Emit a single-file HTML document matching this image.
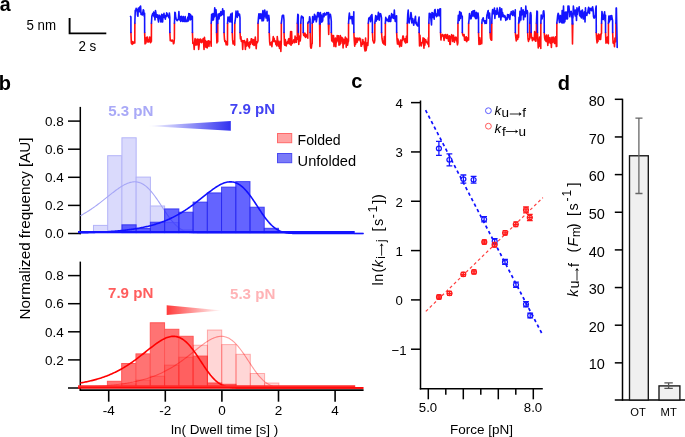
<!DOCTYPE html>
<html><head><meta charset="utf-8"><title>figure</title>
<style>
html,body{margin:0;padding:0;background:#fff;width:685px;height:437px;overflow:hidden}
svg{display:block;will-change:transform}
text{font-family:"Liberation Sans", sans-serif}
</style></head><body>
<svg width="685" height="437" viewBox="0 0 685 437">
<text x="-0.3" y="10.5" font-size="19.6" fill="#000" text-anchor="start" font-weight="bold" font-style="normal" >a</text>
<text x="26.4" y="29.7" font-size="13.9" fill="#000" text-anchor="start" font-weight="normal" font-style="normal" textLength="29.6" lengthAdjust="spacingAndGlyphs">5 nm</text>
<text x="78.4" y="50.9" font-size="13.9" fill="#000" text-anchor="start" font-weight="normal" font-style="normal" textLength="17.9" lengthAdjust="spacingAndGlyphs">2 s</text>
<path d="M69.6 18 V33.4 H106.3" fill="none" stroke="#000" stroke-width="1.9"/>
<path d="M130.95 32.5 L131.33 43.13 L131.77 43.56 L132.2 44.35 L132.63 41.59 L133.07 43.56 L133.5 43.4 L133.93 42.13 L134.37 41.7 L134.8 42.96 L134.85 23.2 M144.65 32.5 L145.05 43.94 L145.51 41.28 L145.96 43.04 L146.41 37.57 L146.87 39.69 L147.32 37 L147.77 42.01 L148.23 39.67 L148.68 42.01 L149.13 40.65 L149.59 37 L150.04 39.98 L150.49 42.69 L150.95 37 L151.4 41.66 L151.45 23.2 M169.85 32.5 L170.26 40.72 L170.72 40.19 L171.18 40.71 L171.64 41.04 L172.1 39.97 L172.56 40.83 L173.02 40.83 L173.48 43.79 L173.94 43.06 L174.4 38.51 L174.45 23.2 M192.45 32.5 L192.85 43.41 L193.3 42.88 L193.74 43.28 L194.19 49.5 L194.64 40.8 L195.09 38.59 L195.53 42.81 L195.98 45.08 L196.43 44.11 L196.88 39.33 L197.32 44.8 L197.77 39.16 L198.22 39.3 L198.67 49.5 L199.11 45.33 L199.56 39.46 L200.01 41.86 L200.46 38.94 L200.9 40.93 L201.35 42.63 L201.8 39.98 L202.25 41.78 L202.7 41.86 L203.14 38.48 L203.59 42.6 L204.04 49.5 L204.49 37.28 L204.93 43.31 L205.38 40.55 L205.83 47.21 L206.28 41.75 L206.72 41.49 L207.17 47.98 L207.62 41.33 L208.07 41.84 L208.51 40.8 L208.96 46.39 L209.41 41.33 L209.86 41.52 L210.3 42.44 L210.75 41.66 L211.2 46.28 L211.25 23.2 M216.55 32.5 L216.9 42.91 L217.3 40 L217.7 41.63 L217.75 23.2 M224.05 32.5 L224.44 39 L224.88 41.51 L225.31 40.72 L225.75 42.35 L226.19 44.77 L226.62 42.37 L227.06 41.35 L227.5 44.87 L227.55 23.2 M232.25 32.5 L232.62 40 L233.03 43.93 L233.45 42.3 L233.87 41.18 L234.28 43.46 L234.7 45.11 L234.75 23.2 M240.05 32.5 L240.45 38.99 L240.9 36.5 L241.35 41.53 L241.8 40.19 L242.25 40.75 L242.7 49.5 L243.15 40.9 L243.6 40.83 L244.05 41.96 L244.5 40.49 L244.95 43.6 L245.4 49.5 L245.85 41.99 L246.3 46.24 L246.75 42.97 L247.2 38.68 L247.65 41.47 L248.1 45.58 L248.55 46.45 L249 42.72 L249.45 48.04 L249.9 41.91 L250.35 44.25 L250.8 42.68 L251.25 38.77 L251.7 38.75 L252.15 40.27 L252.6 44.39 L253.05 43.3 L253.5 39.67 L253.95 45.36 L254.4 45.29 L254.85 40.89 L255.3 36.97 L255.75 42.4 L256.2 48.77 L256.65 41.72 L257.1 42.88 L257.55 42.03 L258 40.84 L258.05 23.2 M269.25 32.5 L269.65 41.83 L270.1 45.03 L270.54 44.77 L270.99 42.69 L271.44 42.31 L271.89 46.61 L272.34 41.37 L272.79 40.96 L273.23 36.5 L273.68 41.57 L274.13 38.24 L274.58 41.59 L275.03 41.72 L275.47 40.97 L275.92 44.56 L276.37 41.78 L276.82 45.99 L277.27 36.5 L277.71 40.5 L278.16 41.09 L278.61 46.11 L279.06 43.18 L279.51 48.37 L279.96 41.34 L280.4 42.26 L280.85 51.5 L281.3 41.7 L281.35 23.2 M284.05 32.5 L284.44 44.38 L284.89 45.27 L285.33 39.58 L285.77 41.83 L286.22 46 L286.66 42.72 L287.1 43.07 L287.55 41.66 L287.99 43.59 L288.43 39.47 L288.88 38.63 L289.32 40.42 L289.76 44.05 L290.21 39.25 L290.6 31.5 L290.65 42.98 L291.09 45.23 L291.54 41.2 L291.6 31.5 L291.98 42.43 L292.42 43.52 L292.87 41.91 L293.31 41.99 L293.75 39.87 L294.2 40.42 L294.64 42.65 L295.08 36 L295.53 38.86 L295.97 41.99 L296.41 42.17 L296.86 37.22 L297.3 39.18 L297.35 23.2 M298.35 32.5 L298.78 44.5 L299.26 36 L299.74 40.47 L300.22 41.02 L300.7 36.09 L300.75 23.2 M303.25 32.5 L303.66 35.35 L304.12 33.26 L304.58 36.22 L305.04 33.18 L305.5 37.48 L305.96 36.15 L306.42 36.66 L306.88 34.59 L307.34 35.4 L307.8 38.14 L307.85 23.2 M310.15 32.5 L310.52 46.51 L310.94 48.16 L311.36 48 L311.78 44.09 L312.2 43.49 L312.25 23.2 M319.6 24 L319.9 46.5 L320.2 24 M328.4 24 L328.7 34.5 L329 24 M331.35 32.5 L331.75 40.84 L332.21 38.59 L332.66 35.5 L333.11 42.27 L333.56 35.5 L334.02 46.43 L334.47 41.29 L334.92 41.49 L335.37 38.04 L335.83 46.74 L336.28 40.39 L336.73 41.93 L337.18 35.5 L337.64 40.76 L338.09 40.01 L338.4 36 L338.54 35.71 L338.99 45.22 L339.45 38.78 L339.9 44.71 L340.35 35.5 L340.81 43.48 L341.26 40.74 L341.71 37.32 L342.16 39.37 L342.62 38.15 L343.07 48 L343.52 39.53 L343.97 43.91 L344.43 43.33 L344.88 39.87 L345.33 37.15 L345.78 38.25 L346.24 47.18 L346.69 38.58 L347.14 40.74 L347.59 45.21 L348.05 42.14 L348.5 40.9 L348.55 23.2 M353.85 32.5 L354.25 40.13 L354.71 46.24 L355.16 38 L355.61 44.31 L356.07 38 L356.52 39.68 L356.97 42.53 L357.43 41.15 L357.88 38 L358.33 39.99 L358.78 39.48 L359.24 38.93 L359.69 38 L360.14 40.89 L360.6 38.96 L361.05 46.12 L361.5 46.18 L361.96 43.12 L362.41 44.2 L362.86 39.5 L363.32 43.49 L363.77 41.73 L364.22 45.29 L364.68 49 L365.13 51.06 L365.58 38 L366.03 50.5 L366.49 48.16 L366.94 43.21 L367.39 42.68 L367.85 45.38 L368.3 38 L368.35 23.2 M372.45 32.5 L372.88 40.37 L373.36 41.56 L373.84 43.04 L374.32 42.74 L374.8 40.18 L374.85 23.2 M381.55 32.5 L381.98 38.22 L382.45 41.04 L382.93 43.03 L383.4 43.31 L383.88 44.05 L384.35 36.5 L384.82 40.08 L385.3 45.17 L385.35 23.2 M396.65 32.5 L397.05 39.89 L397.49 44.05 L397.94 39.17 L398.38 41.07 L398.83 44.34 L399.28 43.69 L399.72 46.79 L400.17 41.74 L400.61 40.06 L401.06 43.37 L401.5 46.2 L401.95 40 L402.4 40.16 L402.84 36 L403.29 36 L403.73 39.57 L404.18 39.29 L404.62 41.73 L405.07 38.78 L405.52 42.93 L405.96 42.74 L406.41 36.21 L406.85 41.7 L407.3 42.29 L407.35 23.2 M419.15 32.5 L419.54 45.87 L419.98 35.42 L420.42 42.05 L420.86 42.45 L421.3 45.88 L421.75 42.75 L422.19 42.7 L422.63 42.77 L423.07 37.88 L423.51 42.22 L423.95 48.09 L424.39 38.63 L424.83 45.25 L425.27 40.57 L425.71 39.75 L426.15 40.94 L426.6 42.07 L427.04 42.79 L427.48 42.54 L427.92 44.15 L428.36 37.9 L428.8 46.79 L428.85 23.2 M440.55 32.5 L440.95 40.06 L441.39 35.61 L441.84 36.18 L442.28 34.72 L442.73 34.5 L443.18 35.5 L443.62 37.32 L444.07 40.4 L444.52 34.97 L444.96 36.88 L445.41 34.5 L445.85 37.13 L446.3 38.38 L446.75 38.2 L447.19 34.5 L447.64 35.04 L448.08 38.59 L448.53 41.1 L448.98 38.83 L449.42 35.71 L449.87 44.5 L450.32 44.5 L450.76 36.22 L451.21 37.68 L451.65 34.68 L452.1 35.7 L452.55 41.47 L452.99 39.06 L453.44 35.21 L453.88 38.86 L454.33 42.18 L454.78 40.51 L455.22 37.31 L455.67 39.63 L456.12 37.18 L456.56 40.09 L457.01 41.75 L457.45 44.83 L457.9 42.72 L457.95 23.2 M462.35 32.5 L462.75 34.9 L463.2 35.81 L463.65 36.02 L464.1 34.5 L464.55 40.17 L465 37.26 L465.45 37.34 L465.9 40.65 L466.35 36.79 L466.8 41.76 L467.25 37.96 L467.7 37.94 L468.15 40.13 L468.6 39.9 L468.65 23.2 M478.55 32.5 L478.97 44.53 L479.44 42.61 L479.91 37.85 L480.39 44.13 L480.86 41.12 L481.33 40.22 L481.8 43.69 L481.85 23.2 M490.05 32.5 L490.43 38 L490.85 39.49 L491.27 40.21 L491.7 40.21 L491.75 23.2 M515.35 32.5 L515.77 37.26 L516.24 40.91 L516.71 37.04 L517.19 35 L517.66 39.47 L518.13 36.73 L518.6 37.14 L518.65 23.2 M527.65 32.5 L528.04 39.12 L528.48 41.38 L528.92 38.76 L529.36 39.65 L529.8 38 L529.85 23.2 M531.15 32.5 L531.54 37.99 L531.98 37.35 L532.42 40.66 L532.87 38.12 L533.31 38.11 L533.75 39.03 L534.19 39.82 L534.63 31.62 L535.08 33.31 L535.52 41.28 L535.96 41.07 L536.4 34.84 L536.45 23.2 M537.45 32.5 L537.82 40.04 L538.25 47.84 L538.67 40.63 L539.1 42.56 L539.52 37.11 L539.95 46.39 L540.38 41.46 L540.8 48.55 L540.85 23.2 M544.25 32.5 L544.65 37.85 L545.1 40.12 L545.55 36.36 L546 41.52 L546.45 35 L546.9 41.76 L547.35 37.62 L547.8 45.5 L548.25 35.11 L548.7 42.8 L549.15 38.82 L549.6 37.86 L550.05 37.6 L550.5 43.32 L550.95 39.9 L551.4 47.51 L551.85 37.18 L552.3 39.32 L552.75 42.47 L553.2 36.98 L553.65 41.4 L554.1 38.03 L554.55 43.48 L555 41.7 L555.45 36.82 L555.9 41.19 L556.35 46.57 L556.8 46.34 L556.85 23.2 M572.2 24 L572.5 44 L572.8 24 M596.25 32.5 L596.64 39.12 L597.08 42.83 L597.53 35.77 L597.97 41.47 L598.41 34.12 L598.85 38.08 L599.29 36.88 L599.73 39.49 L600.17 34.25 L600.62 39.41 L601.06 34.31 L601.5 33.18 L601.55 23.2 M605.55 32.5 L605.98 43.2 L606.47 42.18 L606.95 39.66 L607.43 37 L607.92 42.95 L608.4 43.53 L608.45 23.2 M612.65 32.5 L613.07 43.09 L613.54 42.36 L614.01 41.45 L614.49 46.72 L614.96 38 L615.43 41.92 L615.9 41.64 L615.95 23.2" fill="none" stroke="#ff1010" stroke-width="1.6" stroke-linejoin="round" stroke-linecap="round"/>
<path d="M130.5 16.39 L130.7 16.68 L130.9 16.82 L130.95 32.5 M134.85 23.2 L135.25 10.42 L135.69 10.84 L136.14 8.36 L136.58 10.37 L137.03 9.53 L137.47 14.9 L137.92 16.22 L138.36 8.04 L138.81 11.25 L139.25 9.96 L139.7 7.08 L140.15 12.23 L140.59 6 L141.04 14.5 L141.48 13.01 L141.93 13.49 L142.37 14.9 L142.82 12.51 L143.26 9.84 L143.71 10.43 L144.15 16.24 L144.6 13.26 L144.65 32.5 M151.45 23.2 L151.85 16.19 L152.3 14.83 L152.75 13.49 L153.2 15.56 L153.64 12.01 L154.09 16.76 L154.54 12.72 L154.99 19.92 L155.44 10.51 L155.89 12.78 L156.34 15.53 L156.79 17.21 L157.23 14.73 L157.68 17.11 L158.13 19.86 L158.58 22 L159.03 14.98 L159.48 16.65 L159.93 15.96 L160.38 18.41 L160.82 22 L161.27 18.26 L161.72 14.18 L162.17 22 L162.62 22 L163.07 14.75 L163.52 17.54 L163.97 13.22 L164.41 17.3 L164.86 17.21 L165.31 19.14 L165.76 15.33 L166.21 16.77 L166.66 12.86 L167.11 13.66 L167.56 15.08 L168 16.34 L168.45 15.61 L168.9 17.71 L169.35 12.93 L169.8 17 L169.85 32.5 M174.45 23.2 L174.85 12.29 L175.3 12.74 L175.75 17.46 L176.2 19.16 L176.65 19.8 L177.1 20.71 L177.55 19.51 L178 19.75 L178.45 18.79 L178.9 11.67 L179.35 19.58 L179.8 19.95 L180.25 16.61 L180.7 21.5 L181.15 18.47 L181.6 16.23 L182.05 18.2 L182.5 21.5 L182.95 18.44 L183.4 16.65 L183.85 21.5 L184.3 20.29 L184.75 21.48 L185.2 16.5 L185.65 21.5 L186.1 20.3 L186.55 21.5 L187 21.5 L187.45 18.94 L187.9 17.17 L188.35 20.91 L188.8 13.6 L189.25 16.62 L189.7 13.81 L190.15 19.96 L190.6 14.69 L191.05 19.45 L191.5 16.48 L191.95 16.01 L192.4 16.62 L192.45 32.5 M211.25 23.2 L211.64 14.25 L212.08 20.51 L212.52 15.27 L212.97 13.57 L213.41 20.02 L213.85 16.5 L214.29 17 L214.73 7.76 L215.18 11.58 L215.62 15.99 L216.06 9.79 L216.5 18.38 L216.55 32.5 M217.75 23.2 L218.15 14.02 L218.6 19 L219.05 19 L219.5 13.67 L219.95 15.09 L220.4 15.82 L220.85 11.58 L221.3 15.4 L221.75 14.3 L222.2 13.5 L222.65 8.73 L223.1 14.71 L223.55 13.23 L224 10.77 L224.05 32.5 M227.55 23.2 L227.97 17.16 L228.44 20.86 L228.91 17.58 L229.38 17.1 L229.85 22 L230.32 17.45 L230.79 14.15 L231.26 22 L231.73 16.74 L232.2 13.12 L232.25 32.5 M234.75 23.2 L235.14 21 L235.58 17.58 L236.02 11 L236.47 16.08 L236.91 15.87 L237.35 17.31 L237.79 11 L238.23 15.46 L238.68 13.78 L239.12 15.52 L239.56 14.36 L240 17.88 L240.05 32.5 M258.05 23.2 L258.45 17.92 L258.9 13.76 L259.34 16.52 L259.79 18.45 L260.24 13.75 L260.69 18.56 L261.14 16.01 L261.58 14.17 L262.03 21 L262.48 14.38 L262.93 10.59 L263.38 20.68 L263.82 18.45 L264.27 16.11 L264.72 10 L265.17 12.62 L265.62 14.58 L266.06 18.03 L266.51 16.15 L266.96 11.21 L267.41 21 L267.86 17.81 L268.3 19.9 L268.75 15.33 L269.2 19.07 L269.25 32.5 M281.35 23.2 L281.75 19.92 L282.2 16.01 L282.65 15.26 L283.1 16.41 L283.55 15.3 L284 20 L284.05 32.5 M297.35 23.2 L297.8 14.32 L298.3 14.96 L298.35 32.5 M300.75 23.2 L301.12 18.02 L301.53 16.02 L301.95 16.67 L302.37 16.82 L302.78 18 L303.2 17.36 L303.25 32.5 M307.85 23.2 L308.26 22 L308.72 21.59 L309.18 22 L309.64 16.68 L310.1 19.15 L310.15 32.5 M312.25 23.2 L312.65 16.56 L313.11 22.29 L313.56 20.48 L314.02 19.79 L314.47 14.23 L314.93 15.82 L315.38 19.56 L315.84 16.3 L316.29 21.82 L316.75 19.22 L317.2 15.88 L317.66 12.5 L318.11 16.63 L318.57 12.5 L319.02 15.76 L319.48 16.88 L319.6 24 M320.2 24 L319.93 16.78 L320.39 12.5 L320.84 17.04 L321.3 15.12 L321.75 22.26 L322.2 21.3 L322.66 20.88 L323.11 13.73 L323.57 15.35 L324.02 16.63 L324.48 13 L324.93 14.22 L325.39 14.33 L325.84 15.14 L326.3 14.11 L326.75 12.5 L327.21 12.5 L327.66 13.84 L328.12 15.06 L328.4 24 M329 24 L328.57 12.5 L329.03 18.87 L329.48 14.25 L329.94 15.83 L330.39 14.34 L330.85 16.86 L331.3 21.21 L331.35 32.5 M348.55 23.2 L348.94 17.12 L349.38 13.07 L349.82 17.51 L350.27 18.59 L350.71 18.4 L351.15 16.7 L351.59 16.52 L352.03 19.73 L352.48 23.82 L352.92 16.56 L353.36 20.18 L353.8 11.75 L353.85 32.5 M368.35 23.2 L368.76 18.48 L369.21 17.78 L369.67 18.81 L370.12 16.99 L370.58 21.73 L371.03 15.56 L371.49 19.71 L371.94 14.54 L372.4 20.97 L372.45 32.5 M374.85 23.2 L375.25 19.83 L375.69 15.49 L376.14 21.08 L376.59 17.19 L377.03 16.31 L377.48 19.54 L377.93 17.54 L378.37 12.21 L378.82 15.18 L379.27 20.2 L379.71 14.93 L380.16 13.66 L380.61 13.79 L381.05 15.44 L381.5 17.92 L381.55 32.5 M385.35 23.2 L385.75 17.42 L386.2 18.68 L386.66 20.54 L387.11 20.62 L387.56 19.35 L388.01 19.79 L388.46 21.5 L388.92 16.93 L389.37 15.64 L389.82 21.5 L390.27 19.17 L390.72 21.5 L391.18 16.74 L391.63 13.51 L392.08 17.79 L392.53 16.72 L392.98 14.7 L393.44 18.44 L393.89 16.41 L394.34 10 L394.79 17.45 L395.24 21.5 L395.7 16.32 L396.15 21.5 L396.6 15.68 L396.65 32.5 M407.35 23.2 L407.75 14.27 L408.21 10 L408.66 17.17 L409.12 23.06 L409.57 20.38 L410.02 18.77 L410.48 17.95 L410.93 12.43 L411.38 15.25 L411.84 22.99 L412.29 19.17 L412.75 18.6 L413.2 21.02 L413.65 25.24 L414.11 22.99 L414.56 21.54 L415.02 18.57 L415.47 16.19 L415.92 23.76 L416.38 22.37 L416.83 24.81 L417.28 25.41 L417.74 26 L418.19 23.69 L418.65 19.6 L419.1 17 L419.15 32.5 M428.85 23.2 L429.25 13.42 L429.7 17.46 L430.15 13.61 L430.6 15.28 L431.05 20.09 L431.5 25 L431.95 12.57 L432.4 12.67 L432.85 17.56 L433.3 17.28 L433.75 13.32 L434.2 19.29 L434.65 10.12 L435.1 9.47 L435.55 15.11 L436 13.65 L436.45 16.7 L436.9 14.02 L437.35 15.83 L437.8 9.64 L438.25 12.32 L438.7 13.2 L439.15 15.83 L439.6 9.1 L440.05 11.44 L440.5 8.69 L440.55 32.5 M457.95 23.2 L458.34 15.27 L458.78 17.73 L459.22 20.49 L459.66 11.45 L460.1 15.75 L460.54 18.4 L460.98 12.48 L461.42 14.75 L461.86 16.03 L462.3 16.57 L462.35 32.5 M468.65 23.2 L469.05 19.78 L469.5 13.46 L469.95 16.7 L470.4 15.81 L470.85 18.94 L471.3 17.9 L471.75 11.71 L472.2 16.19 L472.65 12.85 L473.1 10.79 L473.55 12.81 L474 16.47 L474.45 10.59 L474.9 15.98 L475.35 17.95 L475.8 18.7 L476.25 12.34 L476.7 18.51 L477.15 15.55 L477.6 13.23 L478.05 13.07 L478.5 17.53 L478.55 32.5 M481.85 23.2 L482.26 19.49 L482.71 18.94 L483.17 17.71 L483.62 19.88 L484.08 21.41 L484.53 20.75 L484.99 23.5 L485.44 22.25 L485.9 20.51 L486.36 23.33 L486.81 16 L487.27 14.33 L487.72 12 L488.18 10.5 L488.63 18.15 L489.09 17.07 L489.54 13.04 L490 18.57 L490.05 32.5 M491.75 23.2 L492.15 13.74 L492.61 9.65 L493.06 10.94 L493.52 13.76 L493.97 11.41 L494.42 7.99 L494.88 18.43 L495.33 10.77 L495.78 11.53 L496.24 12.34 L496.69 14.35 L497.15 8.17 L497.6 9.97 L498.05 13.82 L498.51 12.95 L498.96 17.09 L499.42 14.87 L499.87 7.5 L500.32 11.38 L500.78 20.06 L501.23 16.12 L501.68 8.79 L502.14 16.66 L502.59 12.53 L503.05 15.83 L503.5 14.98 L503.95 16.95 L504.41 17.09 L504.86 15.65 L505.32 17.02 L505.77 20.4 L506.22 18.31 L506.68 17.83 L507.13 19.46 L507.58 14.48 L508.04 16.94 L508.49 14.7 L508.95 16.55 L509.4 18.78 L509.85 19.34 L510.31 13.72 L510.76 14.52 L511.22 11.55 L511.67 13.06 L512.12 13.11 L512.58 15.41 L513.03 10.75 L513.48 11.97 L513.94 13.47 L514.39 15.97 L514.85 14.87 L515.3 9.87 L515.35 32.5 M518.65 23.2 L519.05 17.2 L519.5 22 L519.95 11.34 L520.4 18.36 L520.85 20.05 L521.3 7.8 L521.75 14.89 L522.2 12.59 L522.65 13.84 L523.1 9.81 L523.55 19.74 L524 11.47 L524.45 16.72 L524.9 13.72 L525.35 16.62 L525.8 6 L526.25 13.55 L526.7 13.2 L527.15 10.52 L527.6 12.33 L527.65 32.5 M529.85 23.2 L530.23 13.14 L530.67 12.55 L531.1 15.46 L531.15 32.5 M536.45 23.2 L536.9 11.02 L537.4 11.75 L537.45 32.5 M540.85 23.2 L541.22 14.94 L541.65 17.77 L542.08 18.95 L542.5 16.86 L542.92 16.65 L543.35 11.31 L543.78 10.82 L544.2 15.1 L544.25 32.5 M556.85 23.2 L557.25 19.7 L557.7 15.33 L558.14 13.32 L558.59 14.39 L559.04 19.9 L559.49 22.49 L559.93 16.33 L560.38 15.52 L560.83 21.42 L561.28 22 L561.72 22.78 L562.17 10.6 L562.62 23 L563.07 19.57 L563.52 6 L563.96 23 L564.41 16.23 L564.86 21.74 L565.31 11.98 L565.75 19.03 L566.2 17.18 L566.65 12.16 L567.1 19.07 L567.55 18.64 L567.99 6 L568.44 11.67 L568.89 6 L569.34 10.52 L569.78 16.8 L570.23 13.86 L570.68 11.65 L571.13 11.25 L571.58 14.08 L572.02 18.53 L572.2 24 M572.8 24 L572.47 13.4 L572.92 18.25 L573.37 6 L573.81 9.76 L574.26 14.03 L574.71 10.46 L575.16 16.02 L575.6 9.93 L576.05 11.61 L576.5 20.42 L576.95 7.74 L577.4 14.51 L577.84 10.61 L578.29 9.38 L578.74 8.85 L579.19 6.7 L579.63 15.68 L580.08 13.14 L580.53 16.6 L580.98 10.94 L581.42 17.99 L581.87 11.7 L582.32 9.95 L582.77 12.23 L583.22 19.06 L583.66 15.75 L584.11 14.35 L584.56 11.78 L585.01 21.88 L585.45 7.91 L585.9 15.09 L586.35 12.79 L586.8 15.48 L587.25 13.1 L587.69 12.82 L588.14 9.65 L588.59 7.29 L589.04 12.13 L589.48 13.39 L589.93 8.25 L590.38 8.87 L590.83 8.67 L591.28 10.39 L591.72 10.7 L592.17 7.6 L592.62 6.77 L593.07 9.51 L593.51 16.42 L593.96 18 L594.41 18.01 L594.86 15.79 L595.3 16.87 L595.75 8.33 L596.2 6 L596.25 32.5 M601.55 23.2 L601.94 11.47 L602.39 14.55 L602.83 17.51 L603.28 19.46 L603.72 16.29 L604.17 14.11 L604.61 11.78 L605.06 20.89 L605.5 15.3 L605.55 32.5 M608.45 23.2 L608.87 16.17 L609.33 22 L609.8 18.28 L610.27 15.73 L610.73 19.66 L611.2 18.52 L611.67 15.5 L612.13 18.32 L612.6 20.66 L612.65 32.5 M615.95 23.2 L616.15 7.95 L616.4 9.34 M616.4 8 L617.2 47.5" fill="none" stroke="#1414ff" stroke-width="1.6" stroke-linejoin="round" stroke-linecap="round"/>
<text x="-1.3" y="89.7" font-size="20" fill="#000" text-anchor="start" font-weight="bold" font-style="normal" >b</text>
<text transform="translate(29.8,319.4) rotate(-90)" font-size="14.6" fill="#000" textLength="182" lengthAdjust="spacingAndGlyphs">Normalized frequency [AU]</text>
<line x1="80.3" y1="106.9" x2="80.3" y2="234.2" stroke="#000" stroke-width="1.5" />
<line x1="68" y1="233.5" x2="81" y2="233.5" stroke="#000" stroke-width="1.5" />
<text x="63.8" y="238.2" font-size="13.5" fill="#000" text-anchor="end" font-weight="normal" font-style="normal" >0.0</text>
<line x1="68" y1="205.4" x2="81" y2="205.4" stroke="#000" stroke-width="1.5" />
<text x="63.8" y="210.1" font-size="13.5" fill="#000" text-anchor="end" font-weight="normal" font-style="normal" >0.2</text>
<line x1="68" y1="177.3" x2="81" y2="177.3" stroke="#000" stroke-width="1.5" />
<text x="63.8" y="182" font-size="13.5" fill="#000" text-anchor="end" font-weight="normal" font-style="normal" >0.4</text>
<line x1="68" y1="149.2" x2="81" y2="149.2" stroke="#000" stroke-width="1.5" />
<text x="63.8" y="153.9" font-size="13.5" fill="#000" text-anchor="end" font-weight="normal" font-style="normal" >0.6</text>
<line x1="68" y1="121.1" x2="81" y2="121.1" stroke="#000" stroke-width="1.5" />
<text x="63.8" y="125.8" font-size="13.5" fill="#000" text-anchor="end" font-weight="normal" font-style="normal" >0.8</text>
<rect x="93.47" y="225.4" width="14.23" height="7.2" fill="#dadafc" stroke="#b4b4f8" stroke-width="1"/>
<rect x="107.7" y="155.7" width="14.23" height="76.9" fill="#dadafc" stroke="#b4b4f8" stroke-width="1"/>
<rect x="121.93" y="137.8" width="14.23" height="94.8" fill="#dadafc" stroke="#b4b4f8" stroke-width="1"/>
<rect x="136.16" y="177.1" width="14.23" height="55.5" fill="#dadafc" stroke="#b4b4f8" stroke-width="1"/>
<rect x="150.39" y="206" width="14.23" height="26.6" fill="#dadafc" stroke="#b4b4f8" stroke-width="1"/>
<rect x="164.62" y="222.6" width="14.23" height="10" fill="#dadafc" stroke="#b4b4f8" stroke-width="1"/>
<rect x="178.85" y="230" width="14.23" height="2.6" fill="#dadafc" stroke="#b4b4f8" stroke-width="1"/>
<path d="M80.4 215.71 L81.34 215.2 L82.29 214.68 L83.23 214.14 L84.17 213.59 L85.12 213.04 L86.06 212.47 L87 211.88 L87.95 211.29 L88.89 210.69 L89.83 210.07 L90.78 209.45 L91.72 208.81 L92.66 208.16 L93.61 207.5 L94.55 206.83 L95.49 206.15 L96.44 205.46 L97.38 204.77 L98.32 204.06 L99.27 203.35 L100.21 202.62 L101.15 201.9 L102.1 201.16 L103.04 200.42 L103.98 199.67 L104.93 198.93 L105.87 198.17 L106.81 197.42 L107.76 196.67 L108.7 195.91 L109.64 195.16 L110.59 194.41 L111.53 193.66 L112.47 192.92 L113.42 192.19 L114.36 191.47 L115.3 190.75 L116.25 190.05 L117.19 189.36 L118.13 188.69 L119.08 188.04 L120.02 187.41 L120.96 186.79 L121.91 186.21 L122.85 185.65 L123.79 185.11 L124.74 184.61 L125.68 184.14 L126.62 183.71 L127.57 183.32 L128.51 182.96 L129.45 182.65 L130.4 182.39 L131.34 182.17 L132.28 182 L133.23 181.89 L134.17 181.82 L135.11 181.82 L136.06 181.87 L137 181.98 L137.94 182.16 L138.89 182.39 L139.83 182.7 L140.77 183.06 L141.72 183.5 L142.66 183.99 L143.6 184.56 L144.55 185.2 L145.49 185.9 L146.43 186.66 L147.38 187.49 L148.32 188.39 L149.26 189.35 L150.21 190.36 L151.15 191.44 L152.09 192.57 L153.04 193.75 L153.98 194.97 L154.92 196.25 L155.87 197.56 L156.81 198.9 L157.75 200.28 L158.7 201.68 L159.64 203.1 L160.58 204.54 L161.53 205.98 L162.47 207.43 L163.41 208.87 L164.36 210.31 L165.3 211.73 L166.24 213.13 L167.19 214.5 L168.13 215.85 L169.07 217.16 L170.02 218.42 L170.96 219.65 L171.9 220.82 L172.85 221.94 L173.79 223.01 L174.73 224.02 L175.68 224.98 L176.62 225.87 L177.56 226.7 L178.51 227.47 L179.45 228.19 L180.39 228.84 L181.34 229.44 L182.28 229.98 L183.22 230.46 L184.17 230.9 L185.11 231.28 L186.05 231.63 L187 231.93 L187.94 232.19 L188.88 232.41 L189.83 232.61 L190.77 232.77 L191.71 232.91 L192.66 233.03 L193.6 233.12 L194.54 233.2 L195.49 233.27 L196.43 233.32 L197.37 233.36 L198.32 233.4 L199.26 233.42 L200.2 233.44 L201.15 233.46 L202.09 233.47 L203.03 233.48 L203.98 233.48 L204.92 233.49 L205.86 233.49 L206.81 233.49 L207.75 233.5 L208.69 233.5 L209.64 233.5 L210.58 233.5 L211.52 233.5 L212.47 233.5 L213.41 233.5 L214.35 233.5 L215.3 233.5 L216.24 233.5 L217.18 233.5 L218.13 233.5 L219.07 233.5 L220.01 233.5 L220.96 233.5 L221.9 233.5 L222.84 233.5 L223.79 233.5 L224.73 233.5 L225.67 233.5 L226.62 233.5 L227.56 233.5 L228.5 233.5 L229.45 233.5 L230.39 233.5 L231.33 233.5 L232.28 233.5 L233.22 233.5 L234.16 233.5 L235.11 233.5 L236.05 233.5 L236.99 233.5 L237.94 233.5 L238.88 233.5 L239.82 233.5 L240.77 233.5 L241.71 233.5 L242.65 233.5 L243.6 233.5 L244.54 233.5 L245.48 233.5 L246.43 233.5 L247.37 233.5 L248.31 233.5 L249.26 233.5 L250.2 233.5 L251.14 233.5 L252.09 233.5 L253.03 233.5 L253.97 233.5 L254.92 233.5 L255.86 233.5 L256.8 233.5 L257.75 233.5 L258.69 233.5 L259.63 233.5 L260.58 233.5 L261.52 233.5 L262.46 233.5 L263.41 233.5 L264.35 233.5 L265.29 233.5 L266.24 233.5 L267.18 233.5 L268.12 233.5 L269.07 233.5 L270.01 233.5 L270.95 233.5 L271.9 233.5 L272.84 233.5 L273.78 233.5 L274.73 233.5 L275.67 233.5 L276.61 233.5 L277.56 233.5 L278.5 233.5 L279.44 233.5 L280.39 233.5 L281.33 233.5 L282.27 233.5 L283.22 233.5 L284.16 233.5 L285.1 233.5 L286.05 233.5 L286.99 233.5 L287.93 233.5 L288.88 233.5 L289.82 233.5 L290.76 233.5 L291.71 233.5 L292.65 233.5 L293.59 233.5 L294.54 233.5 L295.48 233.5 L296.42 233.5 L297.37 233.5 L298.31 233.5 L299.25 233.5 L300.2 233.5 L301.14 233.5 L302.08 233.5 L303.03 233.5 L303.97 233.5 L304.91 233.5 L305.86 233.5 L306.8 233.5 L307.74 233.5 L308.69 233.5 L309.63 233.5 L310.57 233.5 L311.52 233.5 L312.46 233.5 L313.4 233.5 L314.35 233.5 L315.29 233.5 L316.23 233.5 L317.18 233.5 L318.12 233.5 L319.06 233.5 L320.01 233.5 L320.95 233.5 L321.89 233.5 L322.84 233.5 L323.78 233.5 L324.72 233.5 L325.67 233.5 L326.61 233.5 L327.55 233.5 L328.5 233.5 L329.44 233.5 L330.38 233.5 L331.33 233.5 L332.27 233.5 L333.21 233.5 L334.16 233.5 L335.1 233.5 L336.04 233.5 L336.99 233.5 L337.93 233.5 L338.87 233.5 L339.82 233.5 L340.76 233.5 L341.7 233.5 L342.65 233.5 L343.59 233.5 L344.53 233.5 L345.48 233.5 L346.42 233.5 L347.36 233.5 L348.31 233.5 L349.25 233.5 L350.19 233.5 L351.14 233.5 L352.08 233.5 L353.02 233.5 L353.97 233.5 L354.91 233.5 L355.85 233.5 L356.8 233.5 L357.74 233.5 L358.68 233.5 L359.63 233.5 L360.57 233.5 L361.51 233.5 L362.46 233.5 L363.4 233.5" fill="none" stroke="#a6a6f6" stroke-width="1.1" stroke-opacity="1" stroke-linejoin="round"/>
<rect x="121.93" y="224.8" width="14.23" height="7.8" fill="rgba(40,40,255,0.72)" stroke="rgba(40,40,240,0.8)" stroke-width="1"/>
<rect x="136.16" y="228.5" width="14.23" height="4.1" fill="rgba(40,40,255,0.72)" stroke="rgba(40,40,240,0.8)" stroke-width="1"/>
<rect x="150.39" y="222.2" width="14.23" height="10.4" fill="rgba(40,40,255,0.72)" stroke="rgba(40,40,240,0.8)" stroke-width="1"/>
<rect x="164.62" y="208.9" width="14.23" height="23.7" fill="rgba(40,40,255,0.72)" stroke="rgba(40,40,240,0.8)" stroke-width="1"/>
<rect x="178.85" y="212.2" width="14.23" height="20.4" fill="rgba(40,40,255,0.72)" stroke="rgba(40,40,240,0.8)" stroke-width="1"/>
<rect x="193.08" y="202.1" width="14.23" height="30.5" fill="rgba(40,40,255,0.72)" stroke="rgba(40,40,240,0.8)" stroke-width="1"/>
<rect x="207.31" y="192.9" width="14.23" height="39.7" fill="rgba(40,40,255,0.72)" stroke="rgba(40,40,240,0.8)" stroke-width="1"/>
<rect x="221.54" y="187.1" width="14.23" height="45.5" fill="rgba(40,40,255,0.72)" stroke="rgba(40,40,240,0.8)" stroke-width="1"/>
<rect x="235.77" y="181.6" width="14.23" height="51" fill="rgba(40,40,255,0.72)" stroke="rgba(40,40,240,0.8)" stroke-width="1"/>
<rect x="250" y="207.2" width="14.23" height="25.4" fill="rgba(40,40,255,0.72)" stroke="rgba(40,40,240,0.8)" stroke-width="1"/>
<rect x="264.23" y="228.3" width="14.23" height="4.3" fill="rgba(40,40,255,0.72)" stroke="rgba(40,40,240,0.8)" stroke-width="1"/>
<path d="M80.4 232.8 L81.34 232.78 L82.29 232.75 L83.23 232.73 L84.17 232.7 L85.12 232.68 L86.06 232.65 L87 232.62 L87.95 232.59 L88.89 232.56 L89.83 232.53 L90.78 232.5 L91.72 232.46 L92.66 232.43 L93.61 232.39 L94.55 232.35 L95.49 232.31 L96.44 232.27 L97.38 232.23 L98.32 232.19 L99.27 232.15 L100.21 232.1 L101.15 232.05 L102.1 232.01 L103.04 231.96 L103.98 231.9 L104.93 231.85 L105.87 231.8 L106.81 231.74 L107.76 231.68 L108.7 231.62 L109.64 231.56 L110.59 231.49 L111.53 231.42 L112.47 231.36 L113.42 231.28 L114.36 231.21 L115.3 231.13 L116.25 231.05 L117.19 230.97 L118.13 230.89 L119.08 230.8 L120.02 230.71 L120.96 230.62 L121.91 230.53 L122.85 230.43 L123.79 230.32 L124.74 230.22 L125.68 230.11 L126.62 230 L127.57 229.88 L128.51 229.76 L129.45 229.64 L130.4 229.51 L131.34 229.38 L132.28 229.25 L133.23 229.11 L134.17 228.96 L135.11 228.82 L136.06 228.66 L137 228.51 L137.94 228.34 L138.89 228.17 L139.83 228 L140.77 227.82 L141.72 227.64 L142.66 227.45 L143.6 227.25 L144.55 227.05 L145.49 226.84 L146.43 226.63 L147.38 226.41 L148.32 226.18 L149.26 225.95 L150.21 225.71 L151.15 225.46 L152.09 225.2 L153.04 224.94 L153.98 224.67 L154.92 224.39 L155.87 224.11 L156.81 223.81 L157.75 223.51 L158.7 223.2 L159.64 222.88 L160.58 222.55 L161.53 222.21 L162.47 221.86 L163.41 221.5 L164.36 221.13 L165.3 220.76 L166.24 220.37 L167.19 219.97 L168.13 219.56 L169.07 219.15 L170.02 218.72 L170.96 218.28 L171.9 217.83 L172.85 217.37 L173.79 216.89 L174.73 216.41 L175.68 215.91 L176.62 215.4 L177.56 214.89 L178.51 214.36 L179.45 213.81 L180.39 213.26 L181.34 212.7 L182.28 212.12 L183.22 211.53 L184.17 210.93 L185.11 210.32 L186.05 209.7 L187 209.06 L187.94 208.42 L188.88 207.77 L189.83 207.1 L190.77 206.43 L191.71 205.74 L192.66 205.05 L193.6 204.34 L194.54 203.63 L195.49 202.91 L196.43 202.19 L197.37 201.46 L198.32 200.72 L199.26 199.97 L200.2 199.23 L201.15 198.48 L202.09 197.72 L203.03 196.97 L203.98 196.21 L204.92 195.46 L205.86 194.71 L206.81 193.96 L207.75 193.22 L208.69 192.48 L209.64 191.76 L210.58 191.04 L211.52 190.33 L212.47 189.64 L213.41 188.96 L214.35 188.3 L215.3 187.66 L216.24 187.04 L217.18 186.44 L218.13 185.87 L219.07 185.32 L220.01 184.81 L220.96 184.33 L221.9 183.88 L222.84 183.47 L223.79 183.1 L224.73 182.77 L225.67 182.49 L226.62 182.25 L227.56 182.06 L228.5 181.93 L229.45 181.84 L230.39 181.81 L231.33 181.84 L232.28 181.93 L233.22 182.08 L234.16 182.29 L235.11 182.57 L236.05 182.91 L236.99 183.31 L237.94 183.79 L238.88 184.33 L239.82 184.93 L240.77 185.61 L241.71 186.35 L242.65 187.15 L243.6 188.02 L244.54 188.96 L245.48 189.95 L246.43 191 L247.37 192.11 L248.31 193.27 L249.26 194.48 L250.2 195.73 L251.14 197.03 L252.09 198.36 L253.03 199.73 L253.97 201.12 L254.92 202.53 L255.86 203.96 L256.8 205.41 L257.75 206.85 L258.69 208.3 L259.63 209.74 L260.58 211.16 L261.52 212.57 L262.46 213.96 L263.41 215.31 L264.35 216.64 L265.29 217.92 L266.24 219.16 L267.18 220.36 L268.12 221.5 L269.07 222.59 L270.01 223.62 L270.95 224.6 L271.9 225.52 L272.84 226.38 L273.78 227.17 L274.73 227.91 L275.67 228.59 L276.61 229.2 L277.56 229.77 L278.5 230.27 L279.44 230.73 L280.39 231.14 L281.33 231.5 L282.27 231.81 L283.22 232.09 L284.16 232.33 L285.1 232.53 L286.05 232.71 L286.99 232.86 L287.93 232.98 L288.88 233.09 L289.82 233.17 L290.76 233.24 L291.71 233.3 L292.65 233.35 L293.59 233.38 L294.54 233.41 L295.48 233.43 L296.42 233.45 L297.37 233.46 L298.31 233.47 L299.25 233.48 L300.2 233.49 L301.14 233.49 L302.08 233.49 L303.03 233.5 L303.97 233.5 L304.91 233.5 L305.86 233.5 L306.8 233.5 L307.74 233.5 L308.69 233.5 L309.63 233.5 L310.57 233.5 L311.52 233.5 L312.46 233.5 L313.4 233.5 L314.35 233.5 L315.29 233.5 L316.23 233.5 L317.18 233.5 L318.12 233.5 L319.06 233.5 L320.01 233.5 L320.95 233.5 L321.89 233.5 L322.84 233.5 L323.78 233.5 L324.72 233.5 L325.67 233.5 L326.61 233.5 L327.55 233.5 L328.5 233.5 L329.44 233.5 L330.38 233.5 L331.33 233.5 L332.27 233.5 L333.21 233.5 L334.16 233.5 L335.1 233.5 L336.04 233.5 L336.99 233.5 L337.93 233.5 L338.87 233.5 L339.82 233.5 L340.76 233.5 L341.7 233.5 L342.65 233.5 L343.59 233.5 L344.53 233.5 L345.48 233.5 L346.42 233.5 L347.36 233.5 L348.31 233.5 L349.25 233.5 L350.19 233.5 L351.14 233.5 L352.08 233.5 L353.02 233.5 L353.97 233.5 L354.91 233.5 L355.85 233.5 L356.8 233.5 L357.74 233.5 L358.68 233.5 L359.63 233.5 L360.57 233.5 L361.51 233.5 L362.46 233.5 L363.4 233.5" fill="none" stroke="#1010ff" stroke-width="1.6" stroke-opacity="1" stroke-linejoin="round"/>
<line x1="78" y1="232.2" x2="354.7" y2="232.2" stroke="#1414ff" stroke-width="2.3" />
<line x1="354" y1="233.5" x2="363.6" y2="233.5" stroke="#1414ff" stroke-width="1.2" />
<text x="108.2" y="115.7" font-size="15.1" fill="#a9a9f7" text-anchor="start" font-weight="bold" font-style="normal" >5.3 pN</text>
<text x="229.8" y="114.1" font-size="15.1" fill="#4343f2" text-anchor="start" font-weight="bold" font-style="normal" >7.9 pN</text>
<defs><linearGradient id="gb" x1="0" x2="1" y1="0" y2="0"><stop offset="0" stop-color="#3030f0" stop-opacity="0"/><stop offset="1" stop-color="#3030f0" stop-opacity="1"/></linearGradient><linearGradient id="gr" x1="0" x2="1" y1="0" y2="0"><stop offset="0" stop-color="#ff3a3a" stop-opacity="1"/><stop offset="1" stop-color="#ff3a3a" stop-opacity="0"/></linearGradient></defs>
<polygon points="147.3,125.9 230.8,121 230.8,130.7" fill="url(#gb)"/>
<rect x="277.5" y="133.5" width="14.2" height="9.2" fill="#ffa3a3" stroke="#ff6a6a" stroke-width="1"/>
<rect x="277.5" y="153.5" width="14.2" height="9.2" fill="#7a7af8" stroke="#4a4af2" stroke-width="1"/>
<text x="297.6" y="144.6" font-size="13.8" fill="#000" text-anchor="start" font-weight="normal" font-style="normal" textLength="43" lengthAdjust="spacingAndGlyphs">Folded</text>
<text x="297.6" y="166.3" font-size="13.8" fill="#000" text-anchor="start" font-weight="normal" font-style="normal" textLength="58.5" lengthAdjust="spacingAndGlyphs">Unfolded</text>
<line x1="80.3" y1="261.6" x2="80.3" y2="390.8" stroke="#000" stroke-width="1.5" />
<line x1="68" y1="388" x2="81" y2="388" stroke="#000" stroke-width="1.5" />
<line x1="68" y1="359.9" x2="81" y2="359.9" stroke="#000" stroke-width="1.5" />
<text x="63.8" y="364.6" font-size="13.5" fill="#000" text-anchor="end" font-weight="normal" font-style="normal" >0.2</text>
<line x1="68" y1="331.8" x2="81" y2="331.8" stroke="#000" stroke-width="1.5" />
<text x="63.8" y="336.5" font-size="13.5" fill="#000" text-anchor="end" font-weight="normal" font-style="normal" >0.4</text>
<line x1="68" y1="303.7" x2="81" y2="303.7" stroke="#000" stroke-width="1.5" />
<text x="63.8" y="308.4" font-size="13.5" fill="#000" text-anchor="end" font-weight="normal" font-style="normal" >0.6</text>
<line x1="68" y1="275.6" x2="81" y2="275.6" stroke="#000" stroke-width="1.5" />
<text x="63.8" y="280.3" font-size="13.5" fill="#000" text-anchor="end" font-weight="normal" font-style="normal" >0.8</text>
<rect x="107.4" y="381.3" width="14.29" height="5.7" fill="#ff7373" stroke="#ff5656" stroke-width="1"/>
<rect x="121.69" y="363.5" width="14.29" height="23.5" fill="#ff7373" stroke="#ff5656" stroke-width="1"/>
<rect x="135.98" y="353.9" width="14.29" height="33.1" fill="#ff7373" stroke="#ff5656" stroke-width="1"/>
<rect x="150.27" y="322.8" width="14.29" height="64.2" fill="#ff7373" stroke="#ff5656" stroke-width="1"/>
<rect x="164.56" y="329.3" width="14.29" height="57.7" fill="#ff7373" stroke="#ff5656" stroke-width="1"/>
<rect x="178.85" y="336.3" width="14.29" height="50.7" fill="#ff7373" stroke="#ff5656" stroke-width="1"/>
<rect x="193.14" y="356.1" width="14.29" height="30.9" fill="#ff7373" stroke="#ff5656" stroke-width="1"/>
<rect x="207.43" y="383" width="14.29" height="4" fill="#ff7373" stroke="#ff5656" stroke-width="1"/>
<rect x="221.72" y="384.3" width="14.29" height="2.7" fill="#ff7373" stroke="#ff5656" stroke-width="1"/>
<rect x="121.69" y="383.8" width="14.29" height="3.2" fill="rgba(255,0,0,0.16)" stroke="rgba(255,30,30,0.33)" stroke-width="1"/>
<rect x="135.98" y="380.1" width="14.29" height="6.9" fill="rgba(255,0,0,0.16)" stroke="rgba(255,30,30,0.33)" stroke-width="1"/>
<rect x="150.27" y="376.2" width="14.29" height="10.8" fill="rgba(255,0,0,0.16)" stroke="rgba(255,30,30,0.33)" stroke-width="1"/>
<rect x="164.56" y="365.1" width="14.29" height="21.9" fill="rgba(255,0,0,0.16)" stroke="rgba(255,30,30,0.33)" stroke-width="1"/>
<rect x="178.85" y="357.2" width="14.29" height="29.8" fill="rgba(255,0,0,0.16)" stroke="rgba(255,30,30,0.33)" stroke-width="1"/>
<rect x="193.14" y="345.2" width="14.29" height="41.8" fill="rgba(255,0,0,0.16)" stroke="rgba(255,30,30,0.33)" stroke-width="1"/>
<rect x="207.43" y="330" width="14.29" height="57" fill="rgba(255,0,0,0.16)" stroke="rgba(255,30,30,0.33)" stroke-width="1"/>
<rect x="221.72" y="344.6" width="14.29" height="42.4" fill="rgba(255,0,0,0.16)" stroke="rgba(255,30,30,0.33)" stroke-width="1"/>
<rect x="236.01" y="354.3" width="14.29" height="32.7" fill="rgba(255,0,0,0.16)" stroke="rgba(255,30,30,0.33)" stroke-width="1"/>
<rect x="250.3" y="373.5" width="14.29" height="13.5" fill="rgba(255,0,0,0.16)" stroke="rgba(255,30,30,0.33)" stroke-width="1"/>
<rect x="264.59" y="383" width="14.29" height="4" fill="rgba(255,0,0,0.16)" stroke="rgba(255,30,30,0.33)" stroke-width="1"/>
<path d="M80.4 387.04 L81.34 387.01 L82.29 386.98 L83.23 386.94 L84.17 386.91 L85.12 386.87 L86.06 386.83 L87 386.79 L87.95 386.75 L88.89 386.71 L89.83 386.66 L90.78 386.62 L91.72 386.57 L92.66 386.53 L93.61 386.48 L94.55 386.43 L95.49 386.37 L96.44 386.32 L97.38 386.26 L98.32 386.2 L99.27 386.14 L100.21 386.08 L101.15 386.02 L102.1 385.95 L103.04 385.88 L103.98 385.81 L104.93 385.74 L105.87 385.66 L106.81 385.59 L107.76 385.51 L108.7 385.42 L109.64 385.34 L110.59 385.25 L111.53 385.16 L112.47 385.06 L113.42 384.97 L114.36 384.87 L115.3 384.76 L116.25 384.65 L117.19 384.54 L118.13 384.43 L119.08 384.31 L120.02 384.19 L120.96 384.07 L121.91 383.94 L122.85 383.8 L123.79 383.67 L124.74 383.52 L125.68 383.38 L126.62 383.23 L127.57 383.07 L128.51 382.91 L129.45 382.74 L130.4 382.57 L131.34 382.4 L132.28 382.21 L133.23 382.03 L134.17 381.83 L135.11 381.63 L136.06 381.43 L137 381.22 L137.94 381 L138.89 380.77 L139.83 380.54 L140.77 380.31 L141.72 380.06 L142.66 379.81 L143.6 379.55 L144.55 379.28 L145.49 379.01 L146.43 378.72 L147.38 378.43 L148.32 378.13 L149.26 377.82 L150.21 377.51 L151.15 377.18 L152.09 376.84 L153.04 376.5 L153.98 376.15 L154.92 375.78 L155.87 375.41 L156.81 375.03 L157.75 374.63 L158.7 374.23 L159.64 373.82 L160.58 373.39 L161.53 372.96 L162.47 372.51 L163.41 372.05 L164.36 371.58 L165.3 371.1 L166.24 370.61 L167.19 370.11 L168.13 369.6 L169.07 369.07 L170.02 368.53 L170.96 367.98 L171.9 367.42 L172.85 366.85 L173.79 366.27 L174.73 365.67 L175.68 365.07 L176.62 364.45 L177.56 363.82 L178.51 363.18 L179.45 362.53 L180.39 361.87 L181.34 361.2 L182.28 360.52 L183.22 359.83 L184.17 359.13 L185.11 358.42 L186.05 357.7 L187 356.98 L187.94 356.25 L188.88 355.51 L189.83 354.77 L190.77 354.03 L191.71 353.28 L192.66 352.52 L193.6 351.77 L194.54 351.02 L195.49 350.26 L196.43 349.51 L197.37 348.76 L198.32 348.02 L199.26 347.28 L200.2 346.55 L201.15 345.82 L202.09 345.11 L203.03 344.41 L203.98 343.73 L204.92 343.06 L205.86 342.41 L206.81 341.78 L207.75 341.17 L208.69 340.59 L209.64 340.04 L210.58 339.51 L211.52 339.02 L212.47 338.55 L213.41 338.13 L214.35 337.74 L215.3 337.4 L216.24 337.1 L217.18 336.84 L218.13 336.63 L219.07 336.47 L220.01 336.37 L220.96 336.32 L221.9 336.32 L222.84 336.39 L223.79 336.51 L224.73 336.7 L225.67 336.95 L226.62 337.26 L227.56 337.64 L228.5 338.09 L229.45 338.6 L230.39 339.18 L231.33 339.83 L232.28 340.54 L233.22 341.32 L234.16 342.17 L235.11 343.08 L236.05 344.04 L236.99 345.07 L237.94 346.16 L238.88 347.3 L239.82 348.49 L240.77 349.73 L241.71 351.01 L242.65 352.32 L243.6 353.68 L244.54 355.06 L245.48 356.47 L246.43 357.89 L247.37 359.33 L248.31 360.77 L249.26 362.22 L250.2 363.66 L251.14 365.1 L252.09 366.51 L253.03 367.91 L253.97 369.28 L254.92 370.61 L255.86 371.91 L256.8 373.17 L257.75 374.38 L258.69 375.55 L259.63 376.66 L260.58 377.72 L261.52 378.72 L262.46 379.66 L263.41 380.54 L264.35 381.36 L265.29 382.12 L266.24 382.82 L267.18 383.46 L268.12 384.05 L269.07 384.58 L270.01 385.05 L270.95 385.48 L271.9 385.86 L272.84 386.19 L273.78 386.48 L274.73 386.74 L275.67 386.95 L276.61 387.14 L277.56 387.3 L278.5 387.44 L279.44 387.55 L280.39 387.64 L281.33 387.72 L282.27 387.78 L283.22 387.83 L284.16 387.87 L285.1 387.9 L286.05 387.93 L286.99 387.95 L287.93 387.96 L288.88 387.97 L289.82 387.98 L290.76 387.99 L291.71 387.99 L292.65 387.99 L293.59 388 L294.54 388 L295.48 388 L296.42 388 L297.37 388 L298.31 388 L299.25 388 L300.2 388 L301.14 388 L302.08 388 L303.03 388 L303.97 388 L304.91 388 L305.86 388 L306.8 388 L307.74 388 L308.69 388 L309.63 388 L310.57 388 L311.52 388 L312.46 388 L313.4 388 L314.35 388 L315.29 388 L316.23 388 L317.18 388 L318.12 388 L319.06 388 L320.01 388 L320.95 388 L321.89 388 L322.84 388 L323.78 388 L324.72 388 L325.67 388 L326.61 388 L327.55 388 L328.5 388 L329.44 388 L330.38 388 L331.33 388 L332.27 388 L333.21 388 L334.16 388 L335.1 388 L336.04 388 L336.99 388 L337.93 388 L338.87 388 L339.82 388 L340.76 388 L341.7 388 L342.65 388 L343.59 388 L344.53 388 L345.48 388 L346.42 388 L347.36 388 L348.31 388 L349.25 388 L350.19 388 L351.14 388 L352.08 388 L353.02 388 L353.97 388 L354.91 388 L355.85 388 L356.8 388 L357.74 388 L358.68 388 L359.63 388 L360.57 388 L361.51 388 L362.46 388 L363.4 388" fill="none" stroke="#ff0000" stroke-width="1.1" stroke-opacity="0.4" stroke-linejoin="round"/>
<path d="M80.4 382.96 L81.34 382.79 L82.29 382.62 L83.23 382.45 L84.17 382.27 L85.12 382.08 L86.06 381.89 L87 381.69 L87.95 381.49 L88.89 381.28 L89.83 381.07 L90.78 380.84 L91.72 380.61 L92.66 380.38 L93.61 380.13 L94.55 379.88 L95.49 379.63 L96.44 379.36 L97.38 379.09 L98.32 378.81 L99.27 378.52 L100.21 378.22 L101.15 377.92 L102.1 377.6 L103.04 377.28 L103.98 376.95 L104.93 376.6 L105.87 376.25 L106.81 375.89 L107.76 375.52 L108.7 375.14 L109.64 374.75 L110.59 374.35 L111.53 373.94 L112.47 373.52 L113.42 373.09 L114.36 372.64 L115.3 372.19 L116.25 371.72 L117.19 371.25 L118.13 370.76 L119.08 370.26 L120.02 369.75 L120.96 369.23 L121.91 368.69 L122.85 368.15 L123.79 367.59 L124.74 367.02 L125.68 366.44 L126.62 365.85 L127.57 365.25 L128.51 364.63 L129.45 364.01 L130.4 363.37 L131.34 362.72 L132.28 362.07 L133.23 361.4 L134.17 360.72 L135.11 360.03 L136.06 359.34 L137 358.63 L137.94 357.92 L138.89 357.2 L139.83 356.47 L140.77 355.73 L141.72 354.99 L142.66 354.25 L143.6 353.5 L144.55 352.75 L145.49 352 L146.43 351.24 L147.38 350.49 L148.32 349.73 L149.26 348.98 L150.21 348.24 L151.15 347.5 L152.09 346.76 L153.04 346.04 L153.98 345.32 L154.92 344.62 L155.87 343.93 L156.81 343.26 L157.75 342.6 L158.7 341.97 L159.64 341.35 L160.58 340.76 L161.53 340.2 L162.47 339.67 L163.41 339.16 L164.36 338.69 L165.3 338.25 L166.24 337.86 L167.19 337.5 L168.13 337.18 L169.07 336.91 L170.02 336.69 L170.96 336.52 L171.9 336.39 L172.85 336.33 L173.79 336.32 L174.73 336.36 L175.68 336.47 L176.62 336.64 L177.56 336.87 L178.51 337.16 L179.45 337.52 L180.39 337.95 L181.34 338.44 L182.28 339 L183.22 339.63 L184.17 340.32 L185.11 341.08 L186.05 341.91 L187 342.8 L187.94 343.75 L188.88 344.76 L189.83 345.83 L190.77 346.95 L191.71 348.13 L192.66 349.35 L193.6 350.62 L194.54 351.92 L195.49 353.27 L196.43 354.64 L197.37 356.04 L198.32 357.46 L199.26 358.9 L200.2 360.34 L201.15 361.79 L202.09 363.23 L203.03 364.67 L203.98 366.09 L204.92 367.49 L205.86 368.87 L206.81 370.22 L207.75 371.53 L208.69 372.8 L209.64 374.03 L210.58 375.21 L211.52 376.33 L212.47 377.41 L213.41 378.42 L214.35 379.38 L215.3 380.28 L216.24 381.12 L217.18 381.9 L218.13 382.62 L219.07 383.28 L220.01 383.88 L220.96 384.42 L221.9 384.92 L222.84 385.36 L223.79 385.75 L224.73 386.09 L225.67 386.4 L226.62 386.66 L227.56 386.89 L228.5 387.09 L229.45 387.26 L230.39 387.4 L231.33 387.52 L232.28 387.62 L233.22 387.7 L234.16 387.76 L235.11 387.82 L236.05 387.86 L236.99 387.89 L237.94 387.92 L238.88 387.94 L239.82 387.96 L240.77 387.97 L241.71 387.98 L242.65 387.98 L243.6 387.99 L244.54 387.99 L245.48 387.99 L246.43 388 L247.37 388 L248.31 388 L249.26 388 L250.2 388 L251.14 388 L252.09 388 L253.03 388 L253.97 388 L254.92 388 L255.86 388 L256.8 388 L257.75 388 L258.69 388 L259.63 388 L260.58 388 L261.52 388 L262.46 388 L263.41 388 L264.35 388 L265.29 388 L266.24 388 L267.18 388 L268.12 388 L269.07 388 L270.01 388 L270.95 388 L271.9 388 L272.84 388 L273.78 388 L274.73 388 L275.67 388 L276.61 388 L277.56 388 L278.5 388 L279.44 388 L280.39 388 L281.33 388 L282.27 388 L283.22 388 L284.16 388 L285.1 388 L286.05 388 L286.99 388 L287.93 388 L288.88 388 L289.82 388 L290.76 388 L291.71 388 L292.65 388 L293.59 388 L294.54 388 L295.48 388 L296.42 388 L297.37 388 L298.31 388 L299.25 388 L300.2 388 L301.14 388 L302.08 388 L303.03 388 L303.97 388 L304.91 388 L305.86 388 L306.8 388 L307.74 388 L308.69 388 L309.63 388 L310.57 388 L311.52 388 L312.46 388 L313.4 388 L314.35 388 L315.29 388 L316.23 388 L317.18 388 L318.12 388 L319.06 388 L320.01 388 L320.95 388 L321.89 388 L322.84 388 L323.78 388 L324.72 388 L325.67 388 L326.61 388 L327.55 388 L328.5 388 L329.44 388 L330.38 388 L331.33 388 L332.27 388 L333.21 388 L334.16 388 L335.1 388 L336.04 388 L336.99 388 L337.93 388 L338.87 388 L339.82 388 L340.76 388 L341.7 388 L342.65 388 L343.59 388 L344.53 388 L345.48 388 L346.42 388 L347.36 388 L348.31 388 L349.25 388 L350.19 388 L351.14 388 L352.08 388 L353.02 388 L353.97 388 L354.91 388 L355.85 388 L356.8 388 L357.74 388 L358.68 388 L359.63 388 L360.57 388 L361.51 388 L362.46 388 L363.4 388" fill="none" stroke="#ff0000" stroke-width="1.6" stroke-opacity="1" stroke-linejoin="round"/>
<line x1="78" y1="386.2" x2="355.2" y2="386.2" stroke="#ff2a2a" stroke-width="1.7" />
<line x1="78" y1="387.8" x2="363.3" y2="387.8" stroke="#ff0a0a" stroke-width="1.7" />
<line x1="79.7" y1="390.1" x2="363.6" y2="390.1" stroke="#000" stroke-width="1.6" />
<line x1="108.7" y1="390" x2="108.7" y2="401.7" stroke="#000" stroke-width="1.6" />
<text x="108.7" y="415" font-size="13.5" fill="#000" text-anchor="middle" font-weight="normal" font-style="normal" >-4</text>
<line x1="165.3" y1="390" x2="165.3" y2="401.7" stroke="#000" stroke-width="1.6" />
<text x="165.3" y="415" font-size="13.5" fill="#000" text-anchor="middle" font-weight="normal" font-style="normal" >-2</text>
<line x1="221.9" y1="390" x2="221.9" y2="401.7" stroke="#000" stroke-width="1.6" />
<text x="221.9" y="415" font-size="13.5" fill="#000" text-anchor="middle" font-weight="normal" font-style="normal" >0</text>
<line x1="278.5" y1="390" x2="278.5" y2="401.7" stroke="#000" stroke-width="1.6" />
<text x="278.5" y="415" font-size="13.5" fill="#000" text-anchor="middle" font-weight="normal" font-style="normal" >2</text>
<line x1="335.1" y1="390" x2="335.1" y2="401.7" stroke="#000" stroke-width="1.6" />
<text x="335.1" y="415" font-size="13.5" fill="#000" text-anchor="middle" font-weight="normal" font-style="normal" >4</text>
<text x="224.6" y="434.4" font-size="13.5" fill="#000" text-anchor="middle" font-weight="normal" font-style="normal" >ln( Dwell time [s] )</text>
<text x="108" y="298.1" font-size="15.1" fill="#ff5d5d" text-anchor="start" font-weight="bold" font-style="normal" >7.9 pN</text>
<text x="230" y="298.8" font-size="15.1" fill="#ffb3b6" text-anchor="start" font-weight="bold" font-style="normal" >5.3 pN</text>
<polygon points="166.7,305.2 166.7,315.1 222.2,310.4" fill="url(#gr)"/>
<text x="351.2" y="88" font-size="20" fill="#000" text-anchor="start" font-weight="bold" font-style="normal" >c</text>
<line x1="420.5" y1="100.5" x2="420.5" y2="389.6" stroke="#000" stroke-width="1.5" />
<line x1="419.8" y1="388.8" x2="542.8" y2="388.8" stroke="#000" stroke-width="1.5" />
<line x1="411" y1="102.62" x2="420.5" y2="102.62" stroke="#000" stroke-width="1.5" />
<text x="402.8" y="107.92" font-size="13.2" fill="#000" text-anchor="end" font-weight="normal" font-style="normal" >4</text>
<line x1="411" y1="151.94" x2="420.5" y2="151.94" stroke="#000" stroke-width="1.5" />
<text x="402.8" y="157.24" font-size="13.2" fill="#000" text-anchor="end" font-weight="normal" font-style="normal" >3</text>
<line x1="411" y1="201.26" x2="420.5" y2="201.26" stroke="#000" stroke-width="1.5" />
<text x="402.8" y="206.56" font-size="13.2" fill="#000" text-anchor="end" font-weight="normal" font-style="normal" >2</text>
<line x1="411" y1="250.58" x2="420.5" y2="250.58" stroke="#000" stroke-width="1.5" />
<text x="402.8" y="255.88" font-size="13.2" fill="#000" text-anchor="end" font-weight="normal" font-style="normal" >1</text>
<line x1="411" y1="299.9" x2="420.5" y2="299.9" stroke="#000" stroke-width="1.5" />
<text x="402.8" y="305.2" font-size="13.2" fill="#000" text-anchor="end" font-weight="normal" font-style="normal" >0</text>
<line x1="411" y1="349.22" x2="420.5" y2="349.22" stroke="#000" stroke-width="1.5" />
<text x="406.6" y="354.82" font-size="13.2" fill="#000" text-anchor="end" font-weight="normal" font-style="normal" >−1</text>
<line x1="428.3" y1="388.5" x2="428.3" y2="399.3" stroke="#000" stroke-width="1.5" />
<line x1="445.8" y1="388.5" x2="445.8" y2="394.8" stroke="#000" stroke-width="1.5" />
<line x1="463.3" y1="388.5" x2="463.3" y2="399.3" stroke="#000" stroke-width="1.5" />
<line x1="480.8" y1="388.5" x2="480.8" y2="394.8" stroke="#000" stroke-width="1.5" />
<line x1="498.3" y1="388.5" x2="498.3" y2="399.3" stroke="#000" stroke-width="1.5" />
<line x1="515.8" y1="388.5" x2="515.8" y2="394.8" stroke="#000" stroke-width="1.5" />
<line x1="533.3" y1="388.5" x2="533.3" y2="399.3" stroke="#000" stroke-width="1.5" />
<text x="428" y="412" font-size="13.2" fill="#000" text-anchor="middle" font-weight="normal" font-style="normal" >5.0</text>
<text x="533" y="412" font-size="13.2" fill="#000" text-anchor="middle" font-weight="normal" font-style="normal" >8.0</text>
<text x="481.6" y="434" font-size="13.5" fill="#000" text-anchor="middle" font-weight="normal" font-style="normal" >Force [pN]</text>
<text transform="translate(382.6,284.5) rotate(-90)" font-size="14.4" fill="#000"><tspan x="-1.0" y="0">l</tspan><tspan x="2.8" y="0">n</tspan><tspan x="12.0" y="0">(</tspan><tspan x="17.3" y="0" font-style="italic">k</tspan><tspan x="25.4" y="2.3" font-size="13.5">i</tspan><tspan x="42.3" y="2.3" font-size="13.5">j</tspan><tspan x="53.0" y="0">[</tspan><tspan x="58.4" y="0">s</tspan><tspan x="66.2" y="-5.7" font-size="12.5">-</tspan><tspan x="71.9" y="-5.7" font-size="12.5">1</tspan><tspan x="80.8" y="0">]</tspan><tspan x="85.4" y="0">)</tspan></text>
<line x1="381.6" y1="255.7" x2="381.6" y2="243.8" stroke="#000" stroke-width="0.85"/>
<polygon points="381.6,243.4 383.6,246.2 381.6,245.3 379.6,246.2" fill="#000"/>
<line x1="425.8" y1="311.4" x2="542.9" y2="197.6" stroke="#ff4040" stroke-width="1.2" stroke-dasharray="3 2.6"/>
<line x1="425.6" y1="110.2" x2="542.2" y2="334.1" stroke="#1010ff" stroke-width="1.7" stroke-dasharray="3.2 3"/>
<path d="M438.9 141.4 V155.4 M436 141.4 H441.8 M436 155.4 H441.8" stroke="#1414ff" stroke-width="1.3" fill="none"/>
<ellipse cx="438.9" cy="148.4" rx="2.5" ry="2.3" fill="none" stroke="#1414ff" stroke-width="1.2"/>
<path d="M449.4 153.8 V165.8 M446.5 153.8 H452.3 M446.5 165.8 H452.3" stroke="#1414ff" stroke-width="1.3" fill="none"/>
<ellipse cx="449.4" cy="159.8" rx="2.5" ry="2.3" fill="none" stroke="#1414ff" stroke-width="1.2"/>
<path d="M463.4 175 V183.2 M460.5 175 H466.3 M460.5 183.2 H466.3" stroke="#1414ff" stroke-width="1.3" fill="none"/>
<ellipse cx="463.4" cy="179.1" rx="2.5" ry="2.3" fill="none" stroke="#1414ff" stroke-width="1.2"/>
<path d="M473.6 176.4 V183.2 M470.7 176.4 H476.5 M470.7 183.2 H476.5" stroke="#1414ff" stroke-width="1.3" fill="none"/>
<ellipse cx="473.6" cy="179.8" rx="2.5" ry="2.3" fill="none" stroke="#1414ff" stroke-width="1.2"/>
<path d="M484.1 216.7 V221.9 M481.2 216.7 H487 M481.2 221.9 H487" stroke="#1414ff" stroke-width="1.3" fill="none"/>
<ellipse cx="484.1" cy="219.3" rx="2.5" ry="2.3" fill="none" stroke="#1414ff" stroke-width="1.2"/>
<path d="M494.7 238.7 V243.9 M491.8 238.7 H497.6 M491.8 243.9 H497.6" stroke="#1414ff" stroke-width="1.3" fill="none"/>
<ellipse cx="494.7" cy="241.3" rx="2.5" ry="2.3" fill="none" stroke="#1414ff" stroke-width="1.2"/>
<path d="M505 259.5 V264.3 M502.1 259.5 H507.9 M502.1 264.3 H507.9" stroke="#1414ff" stroke-width="1.3" fill="none"/>
<ellipse cx="505" cy="261.9" rx="2.5" ry="2.3" fill="none" stroke="#1414ff" stroke-width="1.2"/>
<path d="M516 282.2 V287.4 M513.1 282.2 H518.9 M513.1 287.4 H518.9" stroke="#1414ff" stroke-width="1.3" fill="none"/>
<ellipse cx="516" cy="284.8" rx="2.5" ry="2.3" fill="none" stroke="#1414ff" stroke-width="1.2"/>
<path d="M526 301.7 V306.9 M523.1 301.7 H528.9 M523.1 306.9 H528.9" stroke="#1414ff" stroke-width="1.3" fill="none"/>
<ellipse cx="526" cy="304.3" rx="2.5" ry="2.3" fill="none" stroke="#1414ff" stroke-width="1.2"/>
<path d="M530.2 313.1 V317.9 M527.3 313.1 H533.1 M527.3 317.9 H533.1" stroke="#1414ff" stroke-width="1.3" fill="none"/>
<ellipse cx="530.2" cy="315.5" rx="2.5" ry="2.3" fill="none" stroke="#1414ff" stroke-width="1.2"/>
<path d="M439 295 V299 M436.6 295 H441.4 M436.6 299 H441.4 M436.4 297 H441.6" stroke="#ff1a1a" stroke-width="1.3" fill="none"/>
<ellipse cx="439" cy="297" rx="2.5" ry="2.3" fill="none" stroke="#ff1a1a" stroke-width="1.2"/>
<path d="M449.5 291.3 V295.3 M447.1 291.3 H451.9 M447.1 295.3 H451.9 M446.9 293.3 H452.1" stroke="#ff1a1a" stroke-width="1.3" fill="none"/>
<ellipse cx="449.5" cy="293.3" rx="2.5" ry="2.3" fill="none" stroke="#ff1a1a" stroke-width="1.2"/>
<path d="M463.3 272.3 V276.3 M460.9 272.3 H465.7 M460.9 276.3 H465.7 M460.7 274.3 H465.9" stroke="#ff1a1a" stroke-width="1.3" fill="none"/>
<ellipse cx="463.3" cy="274.3" rx="2.5" ry="2.3" fill="none" stroke="#ff1a1a" stroke-width="1.2"/>
<path d="M474 269.9 V273.9 M471.6 269.9 H476.4 M471.6 273.9 H476.4 M471.4 271.9 H476.6" stroke="#ff1a1a" stroke-width="1.3" fill="none"/>
<ellipse cx="474" cy="271.9" rx="2.5" ry="2.3" fill="none" stroke="#ff1a1a" stroke-width="1.2"/>
<path d="M484.3 240 V244 M481.9 240 H486.7 M481.9 244 H486.7 M481.7 242 H486.9" stroke="#ff1a1a" stroke-width="1.3" fill="none"/>
<ellipse cx="484.3" cy="242" rx="2.5" ry="2.3" fill="none" stroke="#ff1a1a" stroke-width="1.2"/>
<path d="M494.6 242.4 V247.2 M492.2 242.4 H497 M492.2 247.2 H497 M492 244.8 H497.2" stroke="#ff1a1a" stroke-width="1.3" fill="none"/>
<ellipse cx="494.6" cy="244.8" rx="2.5" ry="2.3" fill="none" stroke="#ff1a1a" stroke-width="1.2"/>
<path d="M505.1 230.6 V235 M502.7 230.6 H507.5 M502.7 235 H507.5 M502.5 232.8 H507.7" stroke="#ff1a1a" stroke-width="1.3" fill="none"/>
<ellipse cx="505.1" cy="232.8" rx="2.5" ry="2.3" fill="none" stroke="#ff1a1a" stroke-width="1.2"/>
<path d="M515.8 221.9 V226.7 M513.4 221.9 H518.2 M513.4 226.7 H518.2 M513.2 224.3 H518.4" stroke="#ff1a1a" stroke-width="1.3" fill="none"/>
<ellipse cx="515.8" cy="224.3" rx="2.5" ry="2.3" fill="none" stroke="#ff1a1a" stroke-width="1.2"/>
<path d="M526 207 V212.8 M523.1 207 H528.9 M523.1 212.8 H528.9 M523.4 209.9 H528.6" stroke="#ff1a1a" stroke-width="1.3" fill="none"/>
<ellipse cx="526" cy="209.9" rx="2.5" ry="2.3" fill="none" stroke="#ff1a1a" stroke-width="1.2"/>
<path d="M529.8 214.3 V220.7 M526.9 214.3 H532.7 M526.9 220.7 H532.7 M527.2 217.5 H532.4" stroke="#ff1a1a" stroke-width="1.3" fill="none"/>
<ellipse cx="529.8" cy="217.5" rx="2.5" ry="2.3" fill="none" stroke="#ff1a1a" stroke-width="1.2"/>
<circle cx="488.4" cy="110.7" r="2.9" fill="none" stroke="#5a5aff" stroke-width="1"/>
<circle cx="488.4" cy="126.2" r="2.9" fill="none" stroke="#ff5a5a" stroke-width="1"/>
<text font-size="13.5" fill="#000"><tspan x="494.6" y="115.1" font-style="italic">k</tspan><tspan x="501.5" y="117.4">u</tspan><tspan x="522.3" y="117.4">f</tspan></text>
<text font-size="13.5" fill="#000"><tspan x="494.6" y="132.6" font-style="italic">k</tspan><tspan x="501.9" y="135.5">f</tspan><tspan x="518.4" y="135.5">u</tspan></text>
<line x1="509.8" y1="114" x2="521.1" y2="114" stroke="#000" stroke-width="0.85"/>
<polygon points="521.5,114 518.7,116 519.6,114 518.7,112" fill="#000"/>
<line x1="505.7" y1="131.5" x2="517.6" y2="131.5" stroke="#000" stroke-width="0.85"/>
<polygon points="518,131.5 515.2,133.5 516.1,131.5 515.2,129.5" fill="#000"/>
<text x="557.8" y="89.7" font-size="20" fill="#000" text-anchor="start" font-weight="bold" font-style="normal" >d</text>
<line x1="622.5" y1="98.8" x2="622.5" y2="400.8" stroke="#000" stroke-width="1.5" />
<line x1="614.8" y1="400" x2="685" y2="400" stroke="#000" stroke-width="1.6" />
<line x1="614.8" y1="362.85" x2="622.5" y2="362.85" stroke="#000" stroke-width="1.5" />
<text x="604.8" y="369.45" font-size="14.5" fill="#000" text-anchor="end" font-weight="normal" font-style="normal" >10</text>
<line x1="614.8" y1="325.2" x2="622.5" y2="325.2" stroke="#000" stroke-width="1.5" />
<text x="604.8" y="331.8" font-size="14.5" fill="#000" text-anchor="end" font-weight="normal" font-style="normal" >20</text>
<line x1="614.8" y1="287.55" x2="622.5" y2="287.55" stroke="#000" stroke-width="1.5" />
<text x="604.8" y="294.15" font-size="14.5" fill="#000" text-anchor="end" font-weight="normal" font-style="normal" >30</text>
<line x1="614.8" y1="249.9" x2="622.5" y2="249.9" stroke="#000" stroke-width="1.5" />
<text x="604.8" y="256.5" font-size="14.5" fill="#000" text-anchor="end" font-weight="normal" font-style="normal" >40</text>
<line x1="614.8" y1="212.25" x2="622.5" y2="212.25" stroke="#000" stroke-width="1.5" />
<text x="604.8" y="218.85" font-size="14.5" fill="#000" text-anchor="end" font-weight="normal" font-style="normal" >50</text>
<line x1="614.8" y1="174.6" x2="622.5" y2="174.6" stroke="#000" stroke-width="1.5" />
<text x="604.8" y="181.2" font-size="14.5" fill="#000" text-anchor="end" font-weight="normal" font-style="normal" >60</text>
<line x1="614.8" y1="136.95" x2="622.5" y2="136.95" stroke="#000" stroke-width="1.5" />
<text x="604.8" y="143.55" font-size="14.5" fill="#000" text-anchor="end" font-weight="normal" font-style="normal" >70</text>
<line x1="614.8" y1="99.3" x2="622.5" y2="99.3" stroke="#000" stroke-width="1.5" />
<text x="604.8" y="105.9" font-size="14.5" fill="#000" text-anchor="end" font-weight="normal" font-style="normal" >80</text>
<rect x="629.5" y="155.78" width="18.8" height="244.22" fill="#f0f0f0" stroke="#151515" stroke-width="1.35"/>
<rect x="659.0" y="385.9" width="20.9" height="14.1" fill="#f0f0f0" stroke="#151515" stroke-width="1.35"/>
<path d="M638.9 118.2 V193.5 M635.4 118.2 H642.5 M635.4 193.5 H642.5" stroke="#666" stroke-width="1.3" fill="none"/>
<path d="M668.6 382.8 V388.4 M664.4 382.8 H672.8 M664.4 388.4 H672.8" stroke="#555" stroke-width="1.3" fill="none"/>
<text x="638" y="415.9" font-size="11.2" fill="#000" text-anchor="middle" font-weight="normal" font-style="normal" >OT</text>
<text x="668.7" y="415.9" font-size="11.2" fill="#000" text-anchor="middle" font-weight="normal" font-style="normal" >MT</text>
<text transform="translate(577.5,296.4) rotate(-90)" font-size="14.4" fill="#000"><tspan x="-0.3" y="0" font-style="italic">k</tspan><tspan x="8.0" y="1.8">u</tspan><tspan x="29.3" y="1.8">f</tspan><tspan x="43.9" y="0">(</tspan><tspan x="49.8" y="0" font-style="italic">F</tspan><tspan x="59.3" y="2.8" font-size="12">m</tspan><tspan x="68.2" y="0">)</tspan><tspan x="80.5" y="0">[</tspan><tspan x="85.8" y="0">s</tspan><tspan x="94.8" y="-7" font-size="12">-</tspan><tspan x="99.8" y="-7" font-size="12">1</tspan><tspan x="109.9" y="0">]</tspan></text>
<line x1="577" y1="280.6" x2="577" y2="268.6" stroke="#000" stroke-width="0.85"/>
<polygon points="577,268.2 579,271 577,270.1 575,271" fill="#000"/>
</svg>
</body></html>
